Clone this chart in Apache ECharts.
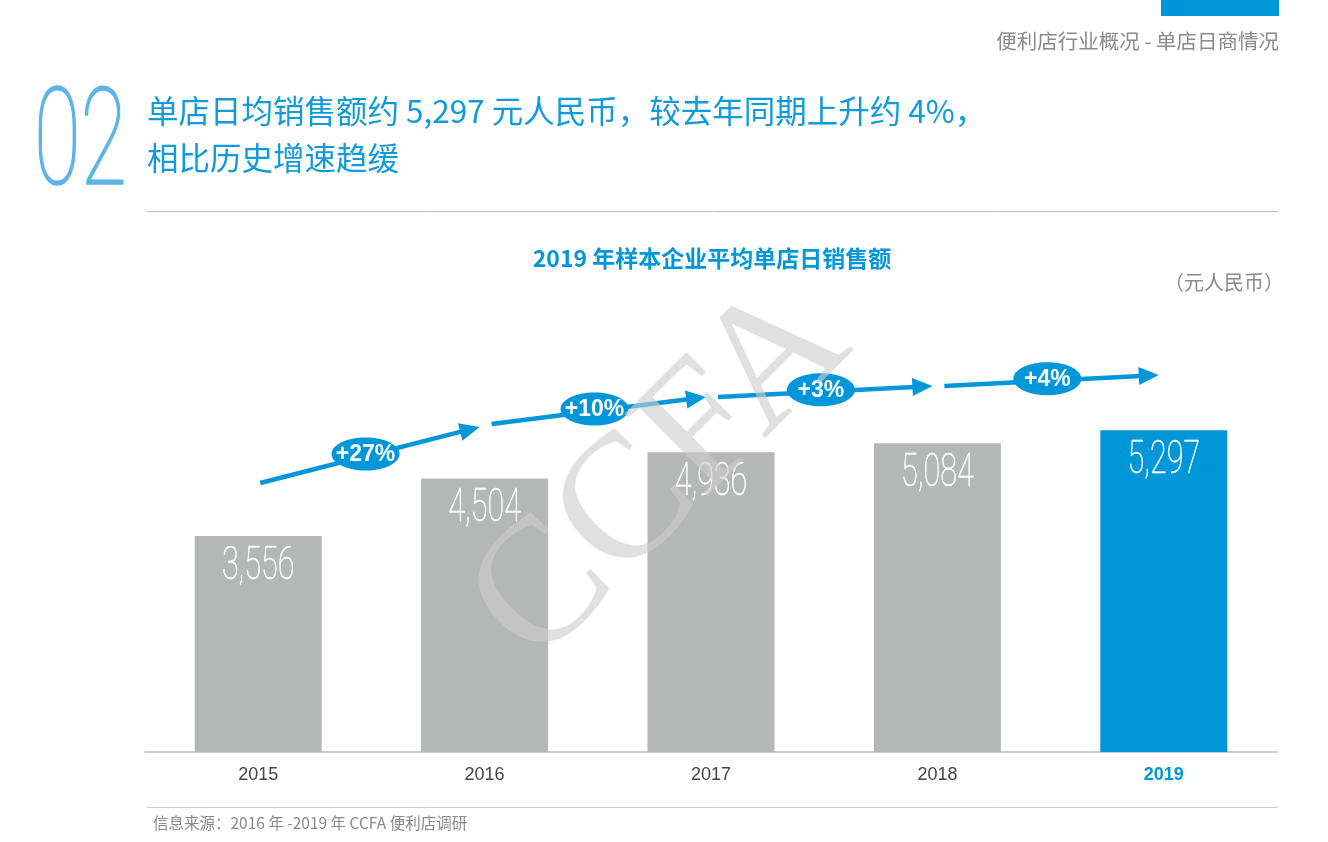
<!DOCTYPE html>
<html><head><meta charset="utf-8">
<script src="https://cdn.jsdelivr.net/npm/echarts@6/dist/echarts.min.js"></script>
<style>html,body{margin:0;padding:0;background:#fff}#c{width:1328px;height:842px}</style>
</head><body><div id="c"></div>
<script>
const years = ['2015', '2016', '2017', '2018', '2019'];
const sales = [3556, 4504, 4936, 5084, 5297];
const growthLabels = ['+27%', '+10%', '+3%', '+4%'];
const trendStart = [4429, 5400, 5845, 6026];
const trendEnd = [5351, 5845, 6026, 6207];

const BLUE = '#0096da';
const GRAY = '#b5b6b6';
const CJK = "'Noto Sans CJK SC', sans-serif";

const chart = echarts.init(document.getElementById('c'));

const trendData = growthLabels.map((g, i) => [i, trendStart[i], trendEnd[i]]);

chart.setOption({
  animation: false,
  grid: { left: 145, right: 51, top: 326.8, bottom: 90 },
  xAxis: {
    type: 'category', data: years,
    axisLine: { lineStyle: { color: '#bbbbbb', width: 1.5 } },
    axisTick: { show: false },
    axisLabel: {
      margin: 14, fontSize: 18, color: '#444', fontFamily: "'Liberation Sans', Arial, sans-serif",
      formatter: (v, i) => i === years.length - 1 ? '{hl|' + v + '}' : v,
      rich: { hl: { fontSize: 18, fontWeight: 'bold', color: BLUE, fontFamily: "'Liberation Sans', Arial, sans-serif" } }
    }
  },
  yAxis: { type: 'value', min: 0, max: 7000, show: false, splitLine: { show: false } },
  series: [
    {
      type: 'bar', barWidth: 127,
      data: sales.map((v, i) => ({ value: v, itemStyle: { color: i === sales.length - 1 ? BLUE : GRAY } })),
      z: 2
    },
    {
      type: 'custom', coordinateSystem: 'cartesian2d', z: 3, clip: false,
      data: sales.map((v, i) => [i, v]),
      renderItem: (params, api) => {
        const p = api.coord([api.value(0), api.value(1)]);
        return {
          type: 'text', x: p[0], y: p[1] + 31, scaleX: 0.65,
          style: {
            text: api.value(1).toLocaleString('en-US'), x: 0, y: 0, align: 'center', verticalAlign: 'middle',
            fill: '#fff', font: "100 47px Roboto, 'Liberation Sans', sans-serif", stroke: '#fff', lineWidth: 0.6
          }
        };
      }
    },
    {
      type: 'custom', coordinateSystem: 'cartesian2d', z: 4, clip: false,
      data: trendData,
      renderItem: (params, api) => {
        const i = api.value(0);
        const a = api.coord([i, api.value(1)]);
        const b = api.coord([i + 1, api.value(2)]);
        const x0 = a[0] + (i === 0 ? 2 : 7), y0 = a[1];
        const x1 = b[0] - 5, y1 = b[1];
        const dx = x1 - x0, dy = y1 - y0, len = Math.hypot(dx, dy);
        const ux = dx / len, uy = dy / len, nx = -uy, ny = ux;
        const hl = 20, hw = 9;
        const bx = x1 - ux * hl, by = y1 - uy * hl;
        const t = 0.48;
        const cx = x0 + dx * t, cy = y0 + dy * t - 2;
        return {
          type: 'group',
          children: [
            { type: 'line', shape: { x1: x0, y1: y0, x2: bx + ux * 2, y2: by + uy * 2 }, style: { stroke: BLUE, lineWidth: 4.5 } },
            { type: 'polygon', shape: { points: [[x1, y1], [bx + nx * hw, by + ny * hw], [bx - nx * hw, by - ny * hw]] }, style: { fill: BLUE } },
            { type: 'ellipse', shape: { cx: cx, cy: cy, rx: 34, ry: 16.5 }, style: { fill: BLUE } },
            { type: 'text', style: { text: growthLabels[params.dataIndex], x: cx, y: cy + 1, align: 'center', verticalAlign: 'middle', fill: '#fff', font: "bold 23px 'Liberation Sans', Arial, sans-serif" } }
          ]
        };
      }
    }
  ],
  graphic: [
    { type: 'rect', shape: { x: 1161, y: 0, width: 118, height: 16 }, style: { fill: BLUE } },
    { type: 'text', style: { text: '便利店行业概况 - 单店日商情况', x: 1279, y: 41, align: 'right', verticalAlign: 'middle', fill: '#8a8a8a', font: '20.5px ' + CJK } },
    { type: 'text', x: 34, y: 150, scaleX: 0.63, style: { text: '02', x: 0, y: 0, align: 'left', verticalAlign: 'middle', fill: '#5ab4e6', stroke: '#5ab4e6', lineWidth: 1.6, font: "100 135px Roboto, sans-serif" } },
    { type: 'text', style: { text: '单店日均销售额约 5,297 元人民币，较去年同期上升约 4%，', x: 147, y: 111, align: 'left', verticalAlign: 'middle', fill: '#0f9ad9', font: '31.5px ' + CJK } },
    { type: 'text', style: { text: '相比历史增速趋缓', x: 147, y: 158, align: 'left', verticalAlign: 'middle', fill: '#0f9ad9', font: '31.5px ' + CJK } },
    { type: 'line', shape: { x1: 147, y1: 211.5, x2: 1278, y2: 211.5 }, style: { stroke: '#bdbdbd', lineWidth: 1 } },
    { type: 'text', style: { text: '2019 年样本企业平均单店日销售额', x: 712, y: 258, align: 'center', verticalAlign: 'middle', fill: BLUE, font: 'bold 23px ' + CJK } },
    { type: 'text', style: { text: '（元人民币）', x: 1284, y: 282, align: 'right', verticalAlign: 'middle', fill: '#8a8a8a', font: '20px ' + CJK } },
    { type: 'line', shape: { x1: 147, y1: 807.5, x2: 1278, y2: 807.5 }, style: { stroke: '#cccccc', lineWidth: 1 } },
    { type: 'text', style: { text: '信息来源：2016 年 -2019 年 CCFA 便利店调研', x: 153, y: 823, align: 'left', verticalAlign: 'middle', fill: '#8a8a8a', font: '15.5px ' + CJK } },
    { type: 'text', z: 100, x: 662, y: 475, rotation: Math.PI / 4, style: { text: 'CCFA', x: 0, y: 0, align: 'center', verticalAlign: 'middle', fill: 'rgba(205,205,205,0.62)', font: "178px 'Liberation Serif', 'DejaVu Serif', serif" } }
  ]
});
</script></body></html>
